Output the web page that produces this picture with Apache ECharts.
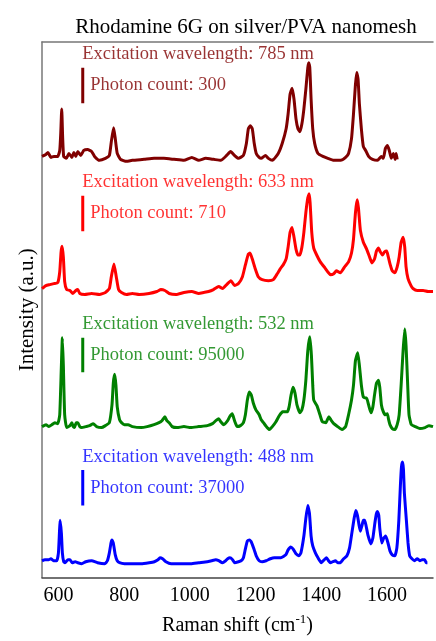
<!DOCTYPE html>
<html>
<head>
<meta charset="utf-8">
<script src="https://cdn.jsdelivr.net/npm/echarts@6/dist/echarts.min.js"></script>
<style>
  html, body { margin: 0; padding: 0; background: #fff; }
  #main { width: 436px; height: 641px; }
</style>
</head>
<body>
<div id="main"></div>
<script>
// Raman shift (cm-1) vs offset intensity (a.u.)
var spec785 = [
  [550,427],[562,429],[568,431],[577,426],[586,427],[598,427],[604,433],[607,450],[610,475],[613,445],[616,427],
  [624,425],[632,430],[641,426],[647,431],[653,427],[659,432],[668,428],[677,433],[689,434],[701,432],[710,427],
  [725,423],[743,425],[755,428],[761,442],[768,456],[773,445],[779,430],[789,424],[807,422],[825,423],[861,424],
  [891,425],[921,425],[952,424],[982,423],[1006,426],[1027,423],[1048,425],[1072,424],[1094,423],[1112,428],
  [1124,432],[1136,428],[1148,425],[1163,428],[1172,440],[1178,455],[1184,458],[1190,455],[1196,440],[1202,430],
  [1211,426],[1217,425],[1230,428],[1239,425],[1251,423],[1269,430],[1281,440],[1293,455],[1299,470],[1305,490],
  [1311,496],[1317,485],[1323,465],[1329,455],[1335,452],[1341,460],[1347,475],[1353,495],[1359,517],[1362,522],
  [1365,517],[1369,485],[1374,455],[1380,440],[1390,430],[1405,427],[1420,425],[1438,423],[1459,423],[1474,426],
  [1483,430],[1492,445],[1498,470],[1504,500],[1508,512],[1512,505],[1516,480],[1522,455],[1528,437],[1535,433],
  [1544,427],[1556,424],[1571,423],[1583,427],[1589,425],[1595,435],[1601,438],[1607,433],[1613,425],[1619,430],
  [1625,424],[1628,430],[1631,424]
];
var spec633 = [
  [550,293],[562,296],[574,297],[586,298],[598,299],[604,310],[608,330],[611,336],[615,325],[619,300],[625,292],
  [635,291],[644,288],[653,291],[659,292],[665,288],[680,287],[701,288],[725,287],[743,289],[755,293],[761,305],
  [769,318],[776,305],[783,292],[792,289],[807,287],[825,288],[846,287],[876,288],[900,290],[912,292],[924,291],
  [937,288],[958,287],[982,289],[1006,290],[1027,288],[1042,289],[1057,290],[1072,292],[1088,295],[1100,293],
  [1112,297],[1125,301],[1136,296],[1148,298],[1160,305],[1169,317],[1178,328],[1183,329],[1190,323],[1199,313],
  [1208,305],[1220,302],[1239,301],[1254,302],[1266,308],[1275,313],[1284,317],[1293,323],[1299,335],[1305,350],
  [1311,355],[1317,345],[1323,333],[1329,327],[1335,327],[1341,335],[1347,350],[1353,370],[1359,385],[1363,389],
  [1366,380],[1371,350],[1377,334],[1386,327],[1397,320],[1411,314],[1428,307],[1438,308],[1446,311],[1458,309],
  [1471,315],[1483,320],[1492,329],[1498,343],[1504,370],[1509,383],[1513,375],[1519,352],[1528,340],[1538,333],
  [1547,325],[1554,319],[1562,323],[1568,331],[1574,334],[1580,330],[1586,327],[1592,330],[1599,331],[1604,325],
  [1610,317],[1616,311],[1624,309],[1631,315],[1637,325],[1643,340],[1649,345],[1654,335],[1658,315],[1664,303],
  [1673,296],[1679,293],[1692,291],[1710,291],[1725,290],[1740,290]
];
var spec532 = [
  [550,153],[562,155],[571,153],[580,155],[589,157],[598,156],[604,165],[609,215],[612,243],[615,215],[619,165],
  [625,152],[635,154],[641,157],[645,153],[649,152],[654,157],[659,157],[665,153],[671,152],[683,153],[695,154],
  [706,156],[716,153],[731,152],[743,154],[755,157],[763,175],[767,197],[771,206],[775,195],[779,173],[786,160],
  [792,157],[801,155],[812,155],[825,153],[852,152],[870,153],[891,155],[906,157],[915,159],[924,163],[930,159],
  [937,157],[946,153],[961,152],[982,153],[1003,152],[1027,153],[1053,154],[1069,156],[1079,159],[1088,161],
  [1094,158],[1103,155],[1115,159],[1121,163],[1129,166],[1136,159],[1144,153],[1154,154],[1163,157],[1169,165],
  [1175,180],[1181,188],[1187,185],[1193,177],[1201,170],[1211,165],[1217,160],[1224,157],[1233,153],[1242,150],
  [1251,153],[1262,158],[1272,164],[1282,168],[1290,168],[1297,168],[1302,173],[1308,185],[1314,193],[1320,187],
  [1326,175],[1335,167],[1341,170],[1347,180],[1353,200],[1359,230],[1365,244],[1370,225],[1374,195],[1377,180],
  [1387,174],[1396,165],[1403,158],[1414,157],[1423,163],[1429,160],[1438,156],[1450,153],[1463,150],[1474,153],
  [1483,165],[1492,180],[1498,195],[1504,220],[1511,228],[1516,215],[1522,195],[1528,183],[1535,182],[1538,182],
  [1544,175],[1551,167],[1557,173],[1562,185],[1568,197],[1574,200],[1578,193],[1583,175],[1589,168],[1595,165],
  [1601,166],[1605,160],[1609,155],[1616,151],[1624,150],[1631,155],[1637,165],[1643,195],[1649,230],[1654,252],
  [1658,235],[1663,195],[1667,165],[1674,155],[1686,153],[1700,151],[1716,152],[1728,154],[1740,153]
];
var spec488 = [
  [550,17],[559,18],[570,18],[577,19],[585,17],[595,17],[600,25],[603,45],[605,58],[609,45],[612,25],[616,16],
  [620,15],[629,18],[635,18],[642,15],[651,16],[659,15],[671,14],[683,16],[701,17],[719,15],[741,14],[749,17],
  [755,25],[760,35],[763,38],[767,35],[773,23],[779,17],[786,15],[801,14],[822,14],[852,14],[876,15],[892,16],
  [903,18],[909,20],[917,19],[927,16],[943,14],[967,14],[1003,14],[1027,15],[1053,16],[1066,17],[1079,18],
  [1088,17],[1099,15],[1109,17],[1115,19],[1122,20],[1130,18],[1136,15],[1148,16],[1156,17],[1163,20],[1169,29],
  [1175,37],[1181,38],[1187,36],[1196,28],[1202,22],[1211,17],[1220,16],[1232,17],[1245,19],[1257,20],[1277,20],
  [1292,23],[1299,28],[1307,31],[1314,29],[1323,24],[1332,22],[1338,25],[1347,42],[1353,60],[1359,73],[1364,65],
  [1369,42],[1374,32],[1382,25],[1390,20],[1400,15],[1409,18],[1416,20],[1422,17],[1428,15],[1435,16],[1443,17],
  [1450,15],[1458,15],[1468,19],[1478,22],[1486,30],[1493,45],[1500,60],[1505,68],[1510,63],[1515,53],[1519,47],
  [1524,53],[1528,58],[1532,58],[1536,53],[1542,43],[1551,34],[1557,40],[1563,55],[1568,65],[1571,67],[1575,63],
  [1578,50],[1584,35],[1590,40],[1596,42],[1603,35],[1609,27],[1616,23],[1624,22],[1630,30],[1636,58],[1641,95],
  [1644,112],[1647,117],[1650,110],[1653,85],[1659,58],[1664,35],[1669,22],[1676,19],[1684,17],[1692,19],
  [1700,17],[1707,18],[1715,18],[1719,15],[1723,15]
];

var wavelengths = ['785', '633', '532', '488'];
var photonCounts = ['300', '710', '95000', '37000'];
var traceColors = ['#800000', '#ff0000', '#008000', '#0000ff'];
// photon-count scale bars: one per trace, drawn at a fixed Raman shift
var barShift = 674;
var barLow = [481, 351, 208, 73];
var barHigh = [517, 387, 243, 109];
var tickLabels = [600, 800, 1000, 1200, 1400, 1600];

var spectra = [spec785, spec633, spec532, spec488];
var font = 'Liberation Serif';

var chartDom = document.getElementById('main');
var myChart = echarts.init(chartDom);

var series = [];
spectra.forEach(function (data, i) {
  var color = traceColors[i];
  series.push({
    name: wavelengths[i] + ' nm',
    type: 'line',
    data: data,
    showSymbol: false,
    symbol: 'none',
    smooth: 0.15,
    lineStyle: { color: color, width: 3 },
    silent: true
  });
  series.push({
    type: 'line',
    data: [[barShift, barLow[i]], [barShift, barHigh[i]]],
    symbol: 'none',
    lineStyle: { color: color, width: 3 },
    silent: true
  });
  var mid = (barLow[i] + barHigh[i]) / 2;
  var lbl = { show: true, position: 'right', color: color, fontFamily: font, fontSize: 18.5 };
  series.push({
    type: 'scatter',
    symbolSize: 1,
    itemStyle: { color: 'transparent' },
    silent: true,
    data: [
      { value: [barShift, mid], label: Object.assign({}, lbl, { distance: 7, formatter: 'Photon count: ' + photonCounts[i] }) },
      { value: [barShift, mid], label: Object.assign({}, lbl, { distance: 0, offset: [-1, -31], formatter: 'Excitation wavelength: ' + wavelengths[i] + ' nm' }) }
    ]
  });
});

var option = {
  backgroundColor: '#fff',
  animation: false,
  title: {
    text: 'Rhodamine 6G on silver/PVA nanomesh',
    left: 241,
    top: 12,
    textAlign: 'center',
    textStyle: { fontFamily: font, fontSize: 21, fontWeight: 'normal', color: '#000' }
  },
  grid: { left: 42, right: 0, top: 42, bottom: 56 },
  xAxis: [
    {
      type: 'value',
      min: 550,
      max: 1740,
      interval: 50,
      name: '{a|Raman shift (cm}{s|-1}{a|)}',
      nameLocation: 'middle',
      nameGap: 36,
      nameTextStyle: {
        rich: {
          a: { fontFamily: font, fontSize: 20, color: '#000' },
          s: { fontFamily: font, fontSize: 13, color: '#000', padding: [0, 0, 12, 0] }
        }
      },
      axisLine: { show: true, lineStyle: { color: '#444', width: 1.5 } },
      axisTick: { show: false },
      splitLine: { show: false },
      axisLabel: {
        margin: 8,
        fontFamily: font,
        fontSize: 20,
        color: '#000',
        formatter: function (v) { return tickLabels.indexOf(v) >= 0 ? String(v) : ''; }
      }
    },
    {
      type: 'value',
      position: 'top',
      min: 550,
      max: 1740,
      axisLine: { show: true, onZero: false, lineStyle: { color: '#777', width: 1.5 } },
      axisTick: { show: false },
      axisLabel: { show: false },
      splitLine: { show: false }
    }
  ],
  yAxis: {
    type: 'value',
    min: 0,
    max: 543,
    name: 'Intensity (a.u.)',
    nameLocation: 'middle',
    nameGap: 4,
    nameTextStyle: { fontFamily: font, fontSize: 21, color: '#000' },
    axisLine: { show: true, lineStyle: { color: '#777', width: 1.5 } },
    axisTick: { show: false },
    axisLabel: { show: false },
    splitLine: { show: false }
  },
  series: series
};

myChart.setOption(option);
</script>
</body>
</html>
